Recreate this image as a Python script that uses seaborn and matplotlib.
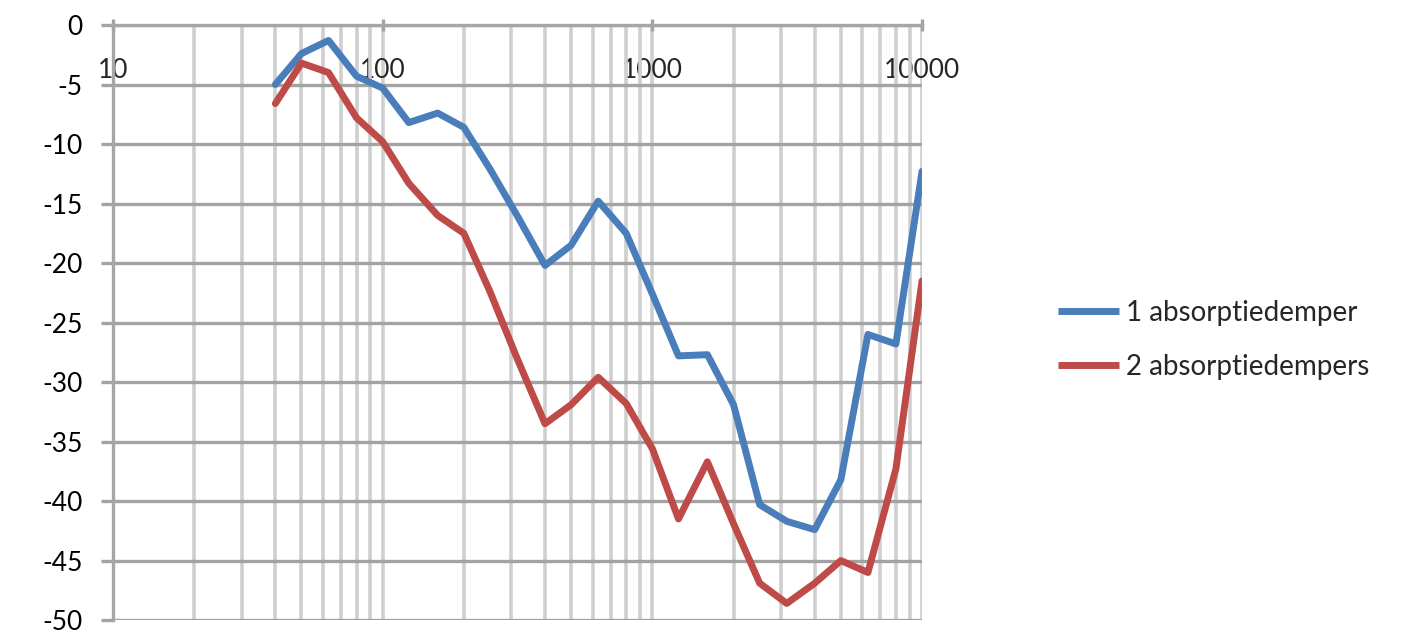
import matplotlib
matplotlib.use("Agg")
import matplotlib.pyplot as plt
import pandas as pd
import seaborn as sns
from matplotlib.ticker import FuncFormatter, LogLocator, MultipleLocator

# third-octave band centre frequencies (Hz)
freqs = [40, 50, 63, 80, 100, 125, 160, 200, 250, 315, 400, 500, 630, 800,
         1000, 1250, 1600, 2000, 2500, 3150, 4000, 5000, 6300, 8000, 10000]
one_damper = [-5.0, -2.4, -1.3, -4.3, -5.3, -8.2, -7.4, -8.6, -12.1, -16.0,
              -20.2, -18.5, -14.8, -17.5, -22.6, -27.8, -27.7, -31.9, -40.3,
              -41.7, -42.4, -38.2, -26.0, -26.8, -12.3]
two_dampers = [-6.6, -3.2, -4.0, -7.8, -9.8, -13.3, -16.0, -17.5, -22.4, -28.0,
               -33.5, -31.9, -29.6, -31.8, -35.6, -41.5, -36.7, -41.9, -46.9,
               -48.6, -46.9, -45.0, -46.0, -37.3, -21.5]
series_names = ["1 absorptiedemper", "2 absorptiedempers"]
palette = {"1 absorptiedemper": "#4A7EBB", "2 absorptiedempers": "#BE4B48"}

df = pd.concat([
    pd.DataFrame({"freq": freqs, "value": one_damper, "serie": series_names[0]}),
    pd.DataFrame({"freq": freqs, "value": two_dampers, "serie": series_names[1]}),
])

sns.set_style("white")
plt.rcParams["font.family"] = ["Lato", "DejaVu Sans"]
plt.rcParams["axes.unicode_minus"] = False

fig = plt.figure(figsize=(14.12, 6.36), dpi=100)
# top at y=25 px, bottom lifted a little so the "-50" label stays inside
ax = fig.add_axes([0.080, 0.0250, 0.573, 0.9357])

sns.lineplot(data=df, x="freq", y="value", hue="serie", palette=palette,
             linewidth=5.0, ax=ax, legend=False, zorder=3)
ax.set_xscale("log")
ax.set_xlim(10, 10000)
ax.set_ylim(-50, 0)
ax.set_xlabel("")
ax.set_ylabel("")

ax.yaxis.set_major_locator(MultipleLocator(5))
ax.xaxis.set_major_locator(LogLocator(base=10))
ax.xaxis.set_minor_locator(LogLocator(base=10, subs=range(2, 10)))
ax.xaxis.set_major_formatter(FuncFormatter(lambda v, _: f"{v:.0f}"))
ax.xaxis.set_minor_formatter(FuncFormatter(lambda v, _: ""))

ax.grid(axis="y", which="major", color="#A3A3A3", linewidth=2.4)
ax.grid(axis="x", which="both", color="#CFCFCF", linewidth=2.6)
ax.set_axisbelow(True)

for side in ["right", "bottom"]:
    ax.spines[side].set_visible(False)
for side in ["left", "top"]:
    ax.spines[side].set_color("#A6A6A6")
    ax.spines[side].set_linewidth(2.4)

ax.tick_params(axis="y", left=True, length=9, width=2.4, color="#A3A3A3",
               pad=13, labelsize=19, labelcolor="black")
ax.tick_params(axis="x", which="major", bottom=False, labelbottom=False,
               top=True, labeltop=True, direction="inout", length=8,
               width=2.4, color="#A3A3A3", pad=-46, labelsize=19)
ax.tick_params(axis="x", which="minor", bottom=False, top=False)

handles = [plt.Line2D([], [], color=palette[n], linewidth=5.0,
                      solid_capstyle="butt") for n in series_names]
fig.legend(handles, series_names, loc="center left",
           bbox_to_anchor=(0.7316, 0.4654), frameon=False, fontsize=20,
           handlelength=2.2, handletextpad=0.25, labelspacing=1.0)

fig.savefig("out.png", dpi=100)
